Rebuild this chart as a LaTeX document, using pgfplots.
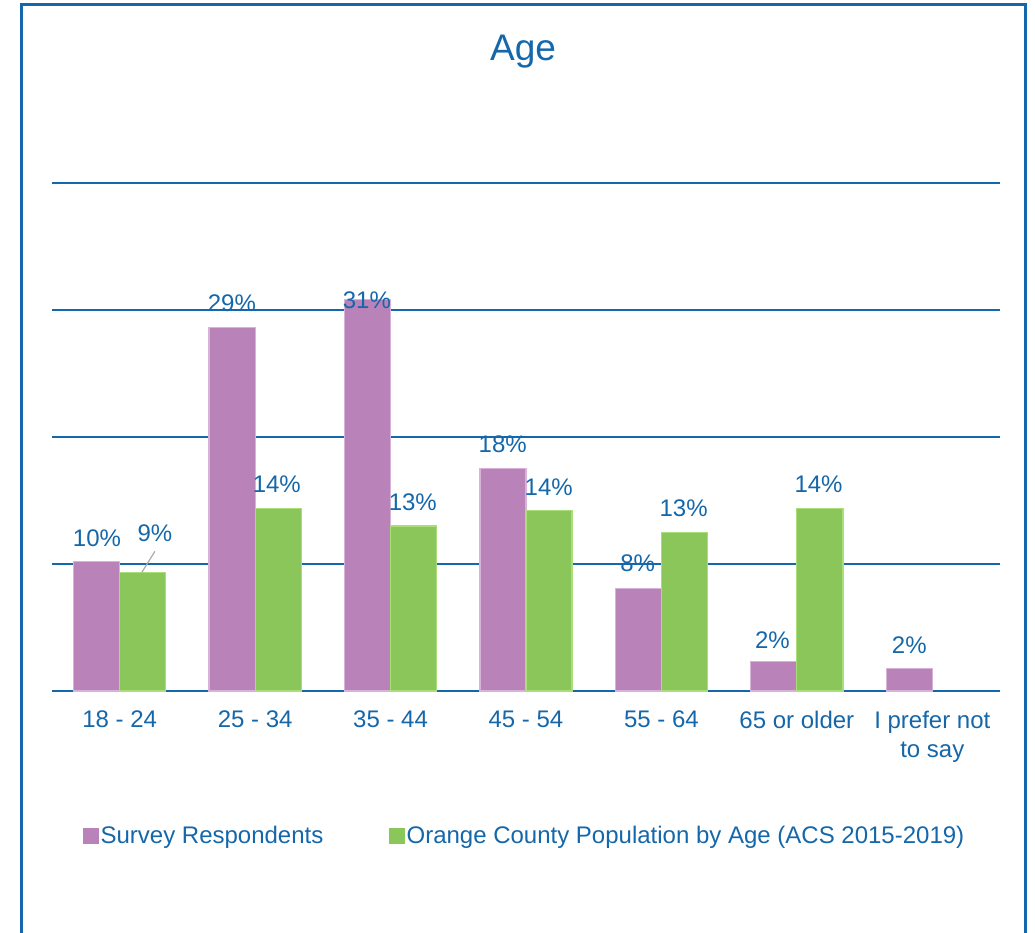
\documentclass[border=0pt]{standalone}
\usepackage{pgfplots}
\pgfplotsset{compat=1.18}
\usepackage{fontspec}
\setmainfont{Liberation Sans}
\definecolor{tblue}{RGB}{20,103,170}
\definecolor{bpurple}{RGB}{185,130,185}
\definecolor{bgreen}{RGB}{139,198,90}
\definecolor{opurple}{RGB}{215,180,215}
\definecolor{ogreen}{RGB}{170,222,120}
\begin{document}
\begin{tikzpicture}
\path[use as bounding box] (-26pt,-121pt) rectangle (491.5pt,345.5pt);
\draw[tblue, line width=1.5pt] (-15pt,-121pt) -- (-15pt,343pt) -- (486.5pt,343pt) -- (486.5pt,-121pt);
\node[text=tblue, font=\fontsize{18.5}{22}\selectfont] at (235.5pt,319.5pt) {Age};
\begin{axis}[at={(0pt,0pt)}, anchor=south west, scale only axis,
  width=474pt, height=254pt,
  xmin=-0.5, xmax=6.5, ymin=0, ymax=40,
  ytick={0,10,20,30,40}, yticklabels={}, ymajorgrids,
  grid style={tblue, line width=0.8pt},
  axis line style={draw=none}, major tick length=0pt,
  xtick={0,1,2,3,4,5,6},
  xticklabels={18 - 24, 25 - 34, 35 - 44, 45 - 54, 55 - 64, 65 or older, {I prefer not\\to say}},
  xticklabel style={align=center, font=\fontsize{12}{14.5}\selectfont, text=tblue, anchor=north, yshift=-6.5pt},
  legend columns=2,
  legend cell align=left,
  legend style={at={(axis description cs:0.0327,-0.2855)}, anchor=west, draw=none, fill=none,
    font=\fontsize{12}{14.5}\selectfont, text=tblue, inner sep=0pt,
    /tikz/every even column/.append style={column sep=31pt},
    /tikz/every odd column/.append style={column sep=-1pt}},
  clip=false,
]
\addplot[ybar, bar width=0.34, bar shift=-0.17, fill=bpurple, draw=opurple, line width=0.6pt,
  legend image code/.code={\fill[bpurple] (0pt,-3.5pt) rectangle (7pt,3.5pt);}]
  table[x=x, y=y] {
x y
0 10.2
1 28.6
2 30.8
3 17.5
4 8.1
5 2.3
6 1.8
};
\addlegendentry{Survey Respondents}
\addplot[ybar, bar width=0.34, bar shift=0.17, fill=bgreen, draw=ogreen, line width=0.6pt,
  legend image code/.code={\fill[bgreen] (0pt,-3.5pt) rectangle (7pt,3.5pt);}]
  table[x=x, y=y] {
x y
0 9.3
1 14.4
2 13.0
3 14.2
4 12.5
5 14.4
};
\addlegendentry{Orange County Population by Age (ACS 2015-2019)}
\addplot[forget plot, color={rgb,255:red,170;green,170;blue,170}, line width=0.6pt] coordinates {(0.164,9.35) (0.26,11.0)};
\addplot[forget plot, only marks, mark=*, mark size=0pt, mark options={draw=none, fill=none},
  nodes near coords={\pgfplotspointmeta\%}, point meta=explicit symbolic,
  every node near coord/.append style={anchor=center, text=tblue, font=\fontsize{12}{14.5}\selectfont}]
  table[x=x, y=y, meta=l] {
x y l
-0.168 12.05 10
0.26 12.44 9
0.828 30.55 29
1.16 16.3 14
1.825 30.8 31
2.164 14.9 13
2.828 19.45 18
3.168 16.06 14
3.825 10.08 8
4.164 14.4 13
4.82 4.0 2
5.16 16.3 14
5.83 3.6 2
};
\end{axis}
\end{tikzpicture}
\end{document}
